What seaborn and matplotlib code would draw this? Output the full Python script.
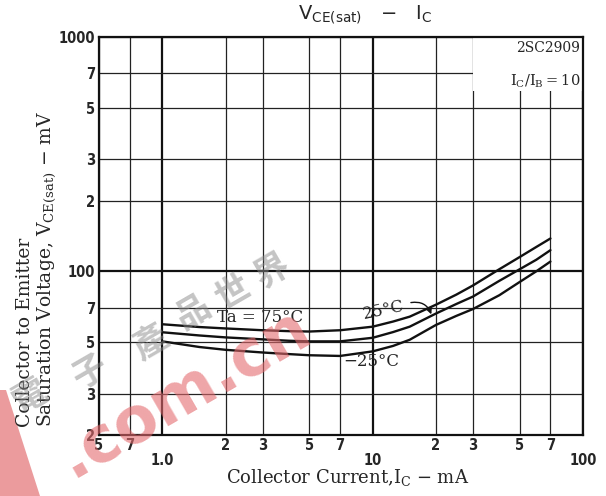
import matplotlib
matplotlib.use('Agg')
import pandas as pd
import matplotlib.pyplot as plt
from matplotlib.patches import Polygon, Rectangle
from matplotlib.ticker import FixedLocator, FixedFormatter
import seaborn as sns

# collector current (mA) and VCE(sat) (mV)
ic_ma = [1.0, 1.5, 2, 3, 4, 5, 7, 10, 12.5, 15, 20, 25, 30, 40, 50, 60, 70]
vce_75 = [59.4, 57.8, 57.0, 56.0, 55.5, 55.3, 56.0, 58.0, 61.0, 64.0, 72.0, 79.5, 87.0, 102.0, 115.0, 127.0, 138.0]
vce_25 = [54.9, 53.2, 52.2, 51.2, 50.5, 50.2, 50.2, 52.0, 55.0, 58.0, 66.0, 72.5, 78.0, 91.0, 102.0, 112.0, 123.0]
vce_m25 = [50.2, 47.5, 46.2, 45.0, 44.3, 43.8, 43.5, 45.5, 48.0, 51.0, 59.0, 64.5, 69.0, 79.0, 90.0, 100.0, 110.0]
temps = ['75', '25', '-25']

x_major = [1, 10, 100]
x_major_labels = ['1.0', '10', '100']
x_minor = [0.5, 0.7, 2, 3, 5, 7, 20, 30, 50, 70]
x_minor_labels = ['5', '7', '2', '3', '5', '7', '2', '3', '5', '7']
y_major = [100, 1000]
y_major_labels = ['100', '1000']
y_minor = [20, 30, 50, 70, 200, 300, 500, 700]
y_minor_labels = ['2', '3', '5', '7', '2', '3', '5', '7']

df = pd.concat([
    pd.DataFrame({'ic': ic_ma, 'vce': v, 'temp': t})
    for v, t in zip([vce_75, vce_25, vce_m25], temps)
])

sns.set_theme(style='white')
plt.rcParams['font.family'] = ['DejaVu Serif']
serif = 'DejaVu Serif'

fig = plt.figure(figsize=(6.06, 4.96), dpi=100)
ax = fig.add_axes([99 / 606, 1 - 435 / 496, 484 / 606, 398 / 496])

sns.lineplot(data=df, x='ic', y='vce', hue='temp', palette=['#111111'] * 3,
             legend=False, linewidth=1.7, ax=ax, zorder=3)

ax.set_xscale('log')
ax.set_yscale('log')
ax.set_xlim(0.5, 100)
ax.set_ylim(20, 1000)

ax.xaxis.set_major_locator(FixedLocator(x_major))
ax.xaxis.set_major_formatter(FixedFormatter(x_major_labels))
ax.xaxis.set_minor_locator(FixedLocator(x_minor))
ax.xaxis.set_minor_formatter(FixedFormatter(x_minor_labels))
ax.yaxis.set_major_locator(FixedLocator(y_major))
ax.yaxis.set_major_formatter(FixedFormatter(y_major_labels))
ax.yaxis.set_minor_locator(FixedLocator(y_minor))
ax.yaxis.set_minor_formatter(FixedFormatter(y_minor_labels))

for lab in ax.get_xticklabels(which='both') + ax.get_yticklabels(which='both'):
    lab.set_family('DejaVu Sans')
    lab.set_fontstretch('condensed')
    lab.set_fontweight('bold')
    lab.set_fontsize(10.5)
ax.tick_params(axis='x', which='major', length=0, pad=13)
ax.tick_params(axis='x', which='minor', length=0, pad=2)
ax.tick_params(axis='y', which='both', length=0, pad=3)

ax.set_axisbelow(True)
ax.grid(True, which='major', color='#111111', linewidth=1.6)
ax.grid(True, which='minor', color='#222222', linewidth=0.9)
for s in ax.spines.values():
    s.set_color('#111111')
    s.set_linewidth(1.6)

ax.set_xlabel('')
ax.set_ylabel('')

# white panel behind the part number
ax.add_patch(Rectangle((30, 590), 69, 400, facecolor='white', edgecolor='none', zorder=1.5))
ax.text(97, 900, '2SC2909', ha='right', va='center', fontsize=10, family=serif, zorder=4)
ax.text(97, 650, r'$\mathregular{I_C/I_B = 10}$', ha='right', va='center', fontsize=10.5,
        family=serif, zorder=4)

ax.text(2.9, 63.5, 'Ta = 75°C', ha='center', va='center', fontsize=12, family=serif, zorder=4)
ax.text(11.3, 68.5, '25°C', ha='center', va='center', fontsize=12, family=serif,
        rotation=12, zorder=4)
ax.annotate('', xy=(19.0, 65.5), xytext=(15.2, 73.5),
            arrowprops=dict(arrowstyle='-|>', color='#111111', lw=1.0, mutation_scale=8,
                            shrinkA=0, shrinkB=0, connectionstyle='arc3,rad=-0.4'),
            zorder=4)
ax.text(9.8, 41.3, '−25°C', ha='center', va='center', fontsize=12, family=serif, zorder=4)

fig.text(365 / 606, 1 - 15 / 496, r'$\mathregular{V_{CE(sat)}}$   −   $\mathregular{I_C}$',
         ha='center', va='center', fontsize=14, family='DejaVu Sans')
fig.text(348 / 606, 1 - 478 / 496, r'Collector Current,$\mathregular{I_C}$ − mA',
         ha='center', va='center', fontsize=13, family=serif)
fig.text(37 / 606, 1 - 427 / 496,
         'Collector to Emitter\nSaturation Voltage, $\\mathregular{V_{CE(sat)}}$ − mV',
         rotation=90, ha='center', va='bottom', multialignment='left',
         fontsize=13.5, family=serif, linespacing=1.1)

# scanned-page watermark
fig.patches.append(Polygon([(0, 106 / 496), (6 / 606, 106 / 496), (40 / 606, 0), (0, 0)],
                           closed=True, transform=fig.transFigure, facecolor='#e88a8c',
                           edgecolor='none', alpha=0.85))
wm_chars = ['電', '子', '產', '品', '世', '界']
wm_pos = [(30, 396), (90, 372), (150, 342), (193, 312), (233, 292), (272, 270)]
for ch, (px, py) in zip(wm_chars, wm_pos):
    fig.text(px / 606, 1 - py / 496, ch, ha='center', va='center', rotation=30,
             fontsize=25, fontweight='bold', color='#8a8a8a', alpha=0.5,
             family=['Noto Sans CJK TC', 'DejaVu Sans'])
fig.text(72 / 606, 1 - 478 / 496, '.com.cn', ha='left', va='baseline', rotation=30,
         rotation_mode='anchor', fontsize=46, fontweight='bold', color='#e46a6e',
         alpha=0.6, family='DejaVu Sans')

fig.savefig('out.png', dpi=100)
